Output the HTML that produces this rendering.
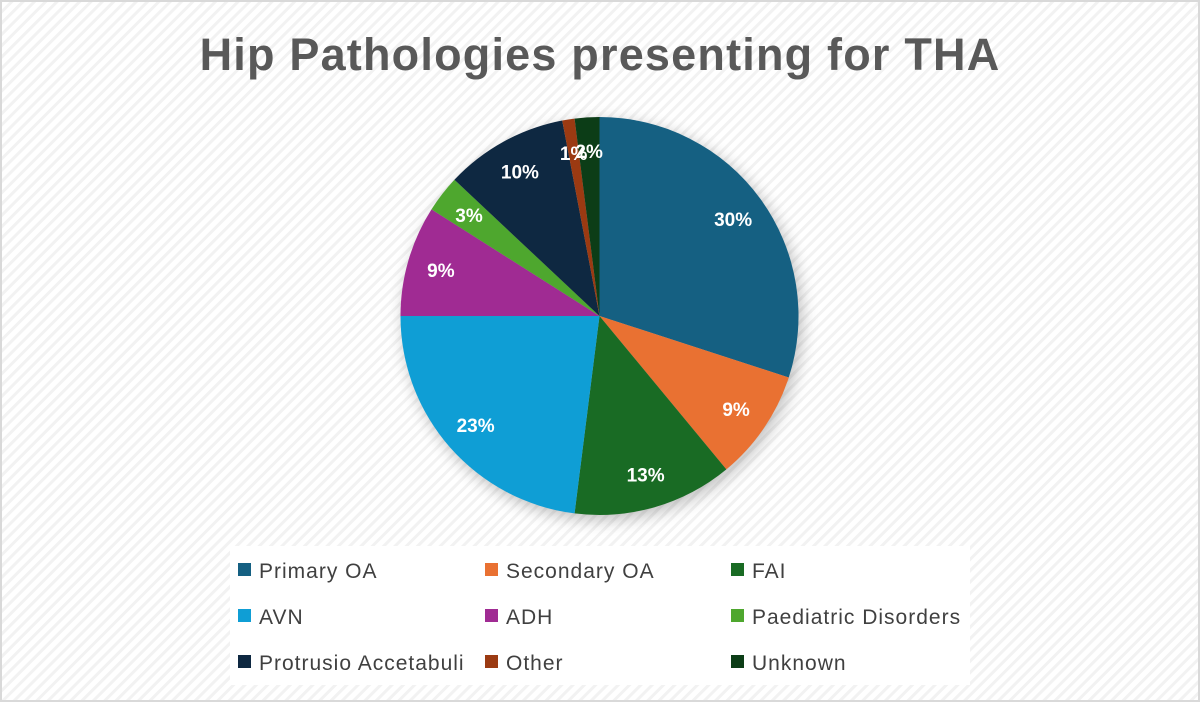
<!DOCTYPE html>
<html><head><meta charset="utf-8"><style>
html,body{margin:0;padding:0;width:1200px;height:702px;overflow:hidden;background:#fff}
#wrap{position:absolute;left:0;top:0;width:1200px;height:702px}
</style></head><body>
<div id="wrap">
<svg id="svg" width="1200" height="702" xmlns="http://www.w3.org/2000/svg">
<defs>
<pattern id="hatch" width="8" height="8" patternUnits="userSpaceOnUse" patternTransform="rotate(45)">
<rect width="8" height="8" fill="#ffffff"/>
<rect width="3" height="8" fill="#f2f2f2"/>
</pattern>
<filter id="sh" x="-20%" y="-20%" width="140%" height="140%"><feGaussianBlur stdDeviation="8"/></filter>
</defs>
<rect x="1" y="1" width="1198" height="700" fill="url(#hatch)" stroke="#d9d9d9" stroke-width="2"/>
<text x="600" y="70" text-anchor="middle" font-family="Liberation Sans, sans-serif" font-weight="bold" font-size="45" letter-spacing="1.2" fill="#595959">Hip Pathologies presenting for THA</text>
<circle cx="603" cy="321" r="199" fill="#000" opacity="0.25" filter="url(#sh)"/>
<g id="slices"></g>
<g id="labels"></g>
<rect x="230" y="546" width="740" height="139" fill="#fff"/>
<g id="legend"></g>
</svg>
</div>
<script>
const categories=["Primary OA","Secondary OA","FAI","AVN","ADH","Paediatric Disorders","Protrusio Accetabuli","Other","Unknown"];
const values=[30,9,13,23,9,3,10,1,2];
const colors=["#156082","#e97132","#196b24","#0f9ed5","#a02b93","#4ea72e","#0e2841","#9b3a12","#0c3d17"];
const NS="http://www.w3.org/2000/svg";
const cx=599.5,cy=316,r=199;
const total=values.reduce((a,b)=>a+b,0);
const sG=document.getElementById('slices'),lG=document.getElementById('labels'),gG=document.getElementById('legend');
let acc=0;
function pt(a,rr){return [cx+rr*Math.sin(a),cy-rr*Math.cos(a)];}
values.forEach((v,i)=>{
 const a0=acc/total*2*Math.PI; acc+=v; const a1=acc/total*2*Math.PI;
 const p0=pt(a0,r),p1=pt(a1,r);
 const large=(a1-a0)>Math.PI?1:0;
 const p=document.createElementNS(NS,'path');
 p.setAttribute('d',`M${cx},${cy}L${p0[0]},${p0[1]}A${r},${r} 0 ${large} 1 ${p1[0]},${p1[1]}Z`);
 p.setAttribute('fill',colors[i]);
 
 
 sG.appendChild(p);
 const m=(a0+a1)/2, lp=pt(m,r*0.83);
 const t=document.createElementNS(NS,'text');
 t.setAttribute('x',lp[0]);t.setAttribute('y',lp[1]+7);
 t.setAttribute('text-anchor','middle');
 t.setAttribute('font-family','Liberation Sans, sans-serif');
 t.setAttribute('font-weight','bold');t.setAttribute('font-size','19');t.setAttribute('fill','#fff');
 t.textContent=Math.round(v/total*100)+'%';
 
 
 lG.appendChild(t);
});
const colX=[238,485,731],rowY=[570,616,662];
categories.forEach((c,i)=>{
 const x=colX[i%3],y=rowY[Math.floor(i/3)];
 const g=document.createElementNS(NS,'g');
 
 
 const s=document.createElementNS(NS,'rect');
 s.setAttribute('x',x);s.setAttribute('y',y-7);s.setAttribute('width',13);s.setAttribute('height',13);s.setAttribute('fill',colors[i]);
 
 
 const t=document.createElementNS(NS,'text');
 t.setAttribute('x',x+21);t.setAttribute('y',y+8);
 t.setAttribute('font-family','Liberation Sans, sans-serif');t.setAttribute('font-size','21');t.setAttribute('letter-spacing','1');t.setAttribute('fill','#404040');
 t.textContent=c;
 
 
 g.appendChild(s);g.appendChild(t);gG.appendChild(g);
});
</script>
</body></html>
